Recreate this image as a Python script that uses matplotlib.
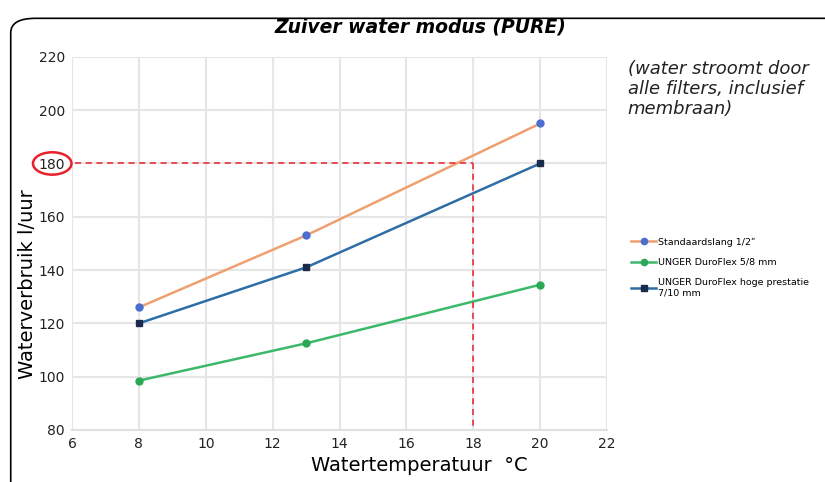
import matplotlib
matplotlib.use("Agg")
import matplotlib.pyplot as plt
from matplotlib.patches import FancyBboxPatch, Ellipse

temps = [8, 13, 20]
standaard = [126, 153, 195]
duroflex = [98.5, 112.5, 134.5]
hoge = [120, 141, 180]

labels = ["Standaardslang 1/2\u02ba", "UNGER DuroFlex 5/8 mm",
          "UNGER DuroFlex hoge prestatie\n7/10 mm"]

xticks = [6, 8, 10, 12, 14, 16, 18, 20, 22]
yticks = [80, 100, 120, 140, 160, 180, 200, 220]

fig = plt.figure(figsize=(8.25, 4.82), dpi=100)

# rounded frame around the chart
frame = FancyBboxPatch((0.013, -0.05), 1.05, 1.012, boxstyle="round,pad=0,rounding_size=0.03",
                       transform=fig.transFigure, fill=False, lw=1.2, ec="black")
fig.patches.append(frame)

ax = fig.add_axes([0.0873, 0.108, 0.6485, 0.774])
ax.plot(temps, standaard, color="#f0a070", lw=1.8, marker="o", ms=5,
        mfc="#4a6fd0", mec="#4a6fd0", label=labels[0])
ax.plot(temps, duroflex, color="#3cb86a", lw=1.8, marker="o", ms=5,
        mfc="#2aa855", mec="#2aa855", label=labels[1])
ax.plot(temps, hoge, color="#2e6ea6", lw=1.8, marker="s", ms=5,
        mfc="#1a2a4a", mec="#1a2a4a", label=labels[2])

# red guide lines at 18 °C / 180 l/uur
ax.plot([6.1, 18], [180, 180], color="#e8202a", lw=1.1, ls=(0, (4, 3)))
ax.plot([18, 18], [180, 80], color="#e8202a", lw=1.1, ls=(0, (4, 3)))

ax.set_xlim(6, 22)
ax.set_ylim(80, 220)
ax.set_xticks(xticks)
ax.set_yticks(yticks)
ax.grid(True, color="#e6e6e6", lw=1.5)
ax.set_axisbelow(True)
for s in ax.spines.values():
    s.set_visible(False)
ax.spines["bottom"].set_visible(True)
ax.spines["bottom"].set_color("#e0e0e0")
ax.spines["bottom"].set_linewidth(1.5)
ax.tick_params(length=0, labelsize=10, colors="#222222", pad=5)

# red ellipse around 180 tick label
ell = Ellipse((-0.037, (180 - 80) / 140), 0.072, 0.06, transform=ax.transAxes,
              fill=False, ec="#e8202a", lw=1.8, clip_on=False)
ax.add_patch(ell)

ax.set_xlabel("Watertemperatuur  \u00b0C", fontsize=14, labelpad=4, x=0.649)
ax.set_ylabel("Waterverbruik l/uur", fontsize=14)
ax.yaxis.set_label_coords(-0.066, 0.39)

fig.text(0.51, 0.944, "Zuiver water modus (PURE)", ha="center", va="center",
         fontsize=13.5, fontweight="bold", style="italic")
fig.text(0.761, 0.815, "(water stroomt door\nalle filters, inclusief\nmembraan)",
         ha="left", va="center", fontsize=13, style="italic", linespacing=1.15,
         color="#222222")

fig.legend(loc="upper left", bbox_to_anchor=(0.755, 0.525), frameon=False,
           fontsize=6.8, handlelength=2.6, labelspacing=1.2, handletextpad=0.2,
           markerscale=0.9)

fig.savefig("out.png", dpi=100)
